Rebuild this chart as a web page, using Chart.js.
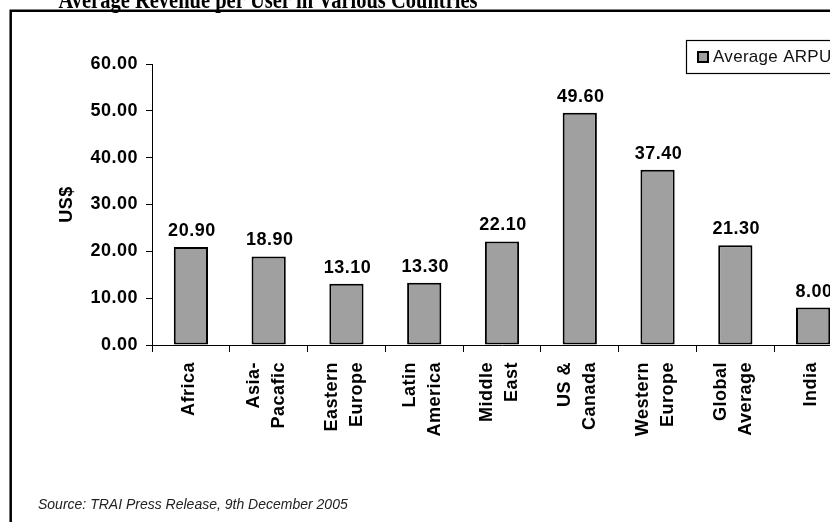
<!DOCTYPE html>
<html>
<head>
<meta charset="utf-8">
<script src="https://cdn.jsdelivr.net/npm/chart.js@4.4.1/dist/chart.umd.min.js"></script>
<style>
  html, body { margin: 0; padding: 0; background: #fff; }
  body { width: 830px; height: 522px; overflow: hidden; position: relative; }
  #arpu { position: absolute; left: 0; top: 0; }
</style>
</head>
<body>
<canvas id="arpu" width="880" height="522"></canvas>
<script>
// region names, split over two lines where the label wraps
const categories = [
  ['Africa'],
  ['Asia-', 'Pacafic'],
  ['Eastern', 'Europe'],
  ['Latin', 'America'],
  ['Middle', 'East'],
  ['US &', 'Canada'],
  ['Western', 'Europe'],
  ['Global', 'Average'],
  ['India']
]
// average revenue per user, US$ per month
const arpu = [20.90, 18.90, 13.10, 13.30, 22.10, 49.60, 37.40, 21.30, 8.00]
const yTicks = [0, 10, 20, 30, 40, 50, 60]

const chartTitle = 'Average Revenue per User in Various Countries'
const sourceNote = 'Source: TRAI Press Release, 9th December 2005'
const seriesName = 'Average ARPU'
const axisTitle = 'US$'

const BAR_GREY = '#a0a0a0'
const SANS = '"Liberation Sans", Arial, sans-serif'
const SPACING = '0.5px'

// value printed on top of each bar
const valueLabels = {
  id: 'valueLabels',
  afterDatasetsDraw(chart) {
    const ctx = chart.ctx
    const meta = chart.getDatasetMeta(0)
    ctx.save()
    ctx.letterSpacing = SPACING
    ctx.font = 'bold 18px ' + SANS
    ctx.fillStyle = '#000'
    ctx.textAlign = 'center'
    ctx.textBaseline = 'alphabetic'
    meta.data.forEach((bar, i) => {
      ctx.fillText(arpu[i].toFixed(2), bar.x + 1, bar.y - 11)
    })
    ctx.restore()
  }
}

// rotated category names, lines centred on the category
const categoryLabels = {
  id: 'categoryLabels',
  afterDraw(chart) {
    const ctx = chart.ctx
    const xScale = chart.scales.x
    ctx.save()
    ctx.letterSpacing = SPACING
    ctx.font = 'bold 18px ' + SANS
    ctx.fillStyle = '#000'
    ctx.textAlign = 'right'
    ctx.textBaseline = 'middle'
    categories.forEach((lines, i) => {
      const cx = xScale.getPixelForValue(i) - 2
      lines.forEach((line, j) => {
        const x = cx + (j - (lines.length - 1) / 2) * 25
        ctx.save()
        ctx.translate(x, 362)
        ctx.rotate(-Math.PI / 2)
        ctx.fillText(line, 0, 0)
        ctx.restore()
      })
    })
    ctx.restore()
  }
}

// outer frame, heading, legend box and source line
const decorations = {
  id: 'decorations',
  afterDraw(chart) {
    const ctx = chart.ctx
    const ds = chart.data.datasets[0]
    ctx.save()

    // frame
    ctx.strokeStyle = '#000'
    ctx.lineWidth = 2.5
    ctx.beginPath()
    ctx.moveTo(10.7, chart.height + 5)
    ctx.lineTo(10.7, 10.7)
    ctx.lineTo(chart.width + 5, 10.7)
    ctx.stroke()

    // heading, mostly cut off by the top edge (slightly tall type)
    ctx.save()
    ctx.translate(268, 8)
    ctx.scale(1, 1.2)
    ctx.font = 'bold 20.5px "Liberation Serif", "Times New Roman", serif'
    ctx.letterSpacing = '0px'
    ctx.fillStyle = '#000'
    ctx.textAlign = 'center'
    ctx.textBaseline = 'alphabetic'
    ctx.fillText(chartTitle, 0, 0)
    ctx.restore()

    // legend
    ctx.lineWidth = 1.2
    ctx.strokeStyle = '#000'
    ctx.strokeRect(686.5, 40.5, 180, 33)
    ctx.fillStyle = ds.backgroundColor
    ctx.fillRect(697, 51, 12, 12)
    ctx.lineWidth = 2
    ctx.strokeRect(698, 52, 10, 10)
    ctx.font = '17px ' + SANS
    ctx.letterSpacing = '0.3px'
    ctx.fillStyle = '#111'
    ctx.textAlign = 'left'
    ctx.textBaseline = 'middle'
    ctx.fillText(seriesName, 713, 57.5)

    // source
    ctx.font = 'italic 14px ' + SANS
    ctx.letterSpacing = '0px'
    ctx.fillStyle = '#222'
    ctx.fillText(sourceNote, 38, 505)

    ctx.restore()
  }
}

function drawChart() {
  const ctx = document.getElementById('arpu').getContext('2d')

  new Chart(ctx, {
    type: 'bar',
    data: {
      labels: categories,
      datasets: [{
        label: seriesName,
        data: arpu,
        backgroundColor: BAR_GREY,
        borderColor: '#000',
        borderWidth: 2,
        borderSkipped: false,
        categoryPercentage: 1,
        barPercentage: 0.44
      }]
    },
    options: {
      responsive: false,
      animation: false,
      layout: {
        padding: { left: 0, right: 28, top: 64, bottom: 0 }
      },
      plugins: {
        legend: { display: false },
        title: { display: false },
        tooltip: { enabled: false }
      },
      scales: {
        x: {
          afterFit: s => { s.height = 522 - 345 },
          grid: {
            offset: true,
            drawOnChartArea: false,
            drawTicks: true,
            tickLength: 7,
            color: '#000'
          },
          border: { display: true, color: '#000', width: 1 },
          ticks: { display: false }
        },
        y: {
          min: yTicks[0],
          max: yTicks[yTicks.length - 1],
          afterFit: s => { s.width = 152 },
          afterBuildTicks: s => { s.ticks = yTicks.map(v => ({ value: v })) },
          grid: {
            drawOnChartArea: false,
            drawTicks: true,
            tickLength: 6,
            color: '#000'
          },
          border: { display: true, color: '#000', width: 1 },
          ticks: {
            padding: 8,
            color: '#000',
            font: { family: SANS, size: 18, weight: 'bold' },
            callback: v => Number(v).toFixed(2)
          },
          title: {
            display: true,
            text: axisTitle,
            color: '#000',
            font: { family: SANS, size: 18, weight: 'bold' },
            padding: { top: 56, bottom: 0 }
          }
        }
      }
    },
    plugins: [
      {
        id: 'spacing',
        beforeDraw(chart) { chart.ctx.letterSpacing = SPACING },
        afterDraw(chart) { chart.ctx.letterSpacing = '0px' }
      },
      valueLabels,
      categoryLabels,
      decorations
    ]
  })
}

window.onload = function() {
  drawChart()
}
</script>
</body>
</html>
